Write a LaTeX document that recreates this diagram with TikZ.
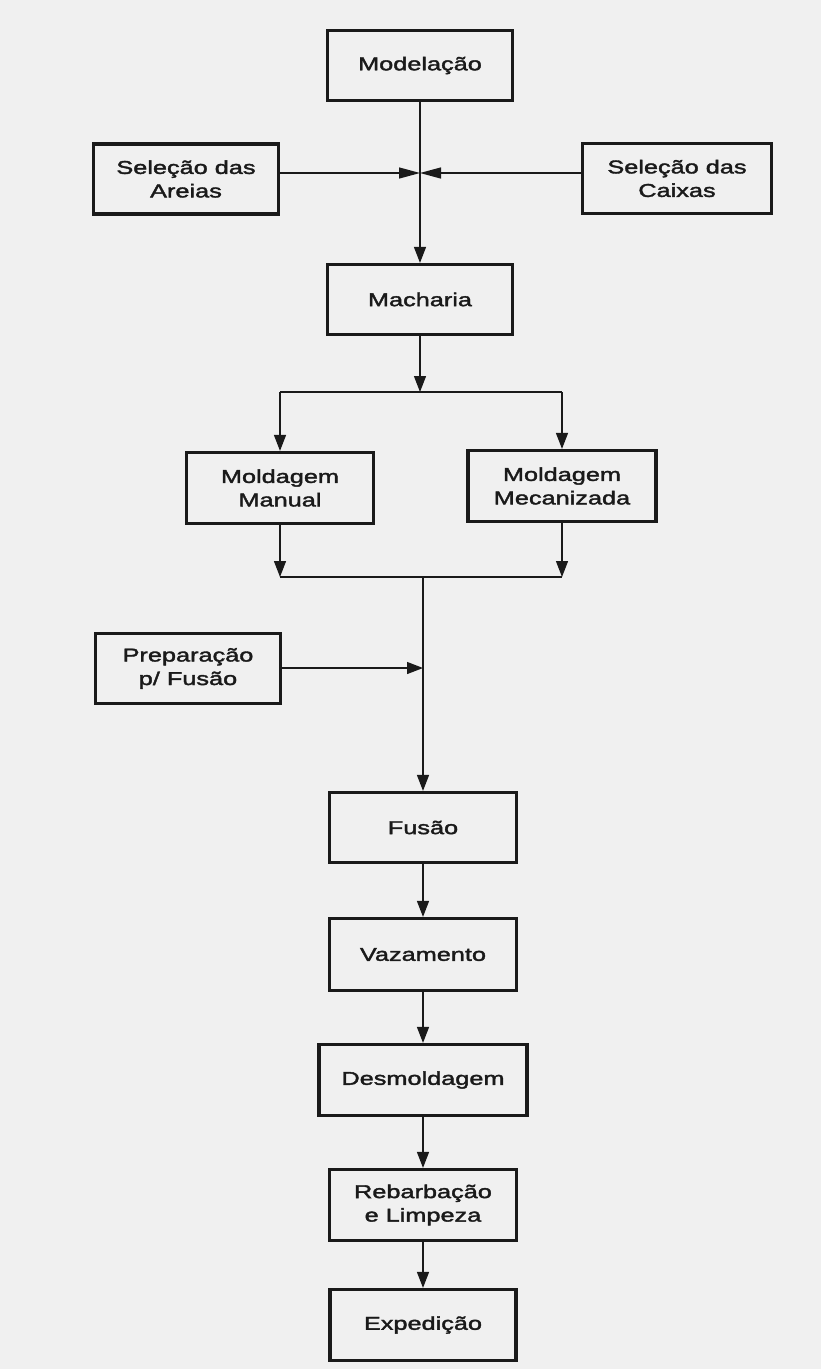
\documentclass[tikz,border=0pt]{standalone}
\usepackage{fontspec}
\setmainfont[FakeStretch=1.36,FakeBold=2]{Liberation Sans}
\usetikzlibrary{arrows.meta}
\definecolor{paper}{RGB}{240,240,240}
\definecolor{ink}{RGB}{26,26,26}
\begin{document}
\begin{tikzpicture}[x=1pt,y=-1pt,
  stage/.style={draw=ink, line width=3.2pt, align=center, inner sep=0pt,
    minimum width=185pt, minimum height=70pt,
    font=\fontsize{18.6}{23.5}\selectfont, text=ink},
  link/.style={draw=ink, line width=1.3pt},
  flow/.style={link, -{Triangle[length=16pt,width=12pt]}},
  feed/.style={link, -{Triangle[length=21pt,width=11pt]}}]
% paper
\fill[paper] (0,0) rectangle (821,1369);
\useasboundingbox (0,0) rectangle (821,1369);

% process stages
\node[stage] (mod)    at (420,65.5)  {Modelação};
\node[stage] (areias) at (186,179)   {Seleção das\\Areias};
\node[stage, minimum width=189pt] (caixas) at (677,178.5) {Seleção das\\Caixas};
\node[stage] (mach)   at (420,299.5) {Macharia};
\node[stage, minimum width=187pt, minimum height=71pt] (manual) at (280,488) {Moldagem\\Manual};
\node[stage, minimum width=188pt, minimum height=71pt] (mecan)  at (562,486) {Moldagem\\Mecanizada};
\node[stage] (prep)   at (188,668.5) {Preparação\\p/ Fusão};
\node[stage, minimum width=187pt] (fusao) at (423,827.5) {Fusão};
\node[stage, minimum width=187pt, minimum height=72pt] (vaz) at (423,954.5) {Vazamento};
\node[stage, minimum width=208pt, minimum height=71pt] (desm) at (423,1080) {Desmoldagem};
\node[stage, minimum width=187pt, minimum height=71pt] (rebar) at (423,1205) {Rebarbação\\e Limpeza};
\node[stage, minimum width=186pt, minimum height=71pt] (exped) at (423,1325) {Expedição};

% junction points
\coordinate (j1) at (420,173);
\coordinate (split) at (420,392);
\coordinate (splitL) at (280,392);
\coordinate (splitR) at (562,392);
\coordinate (joinL) at (280,577);
\coordinate (joinR) at (562,577);
\coordinate (join) at (423,577);
\coordinate (j2) at (423,668);

% top feed
\draw[flow] (mod.south) -- (mach.north);
\draw[feed] (areias.east |- j1) -- (j1);
\draw[feed] (caixas.west |- j1) -- (j1);

% split into the two moulding lines
\draw[flow] (mach.south) -- (split);
\draw[link] (splitL) -- (splitR);
\draw[flow] (splitL) -- (manual.north);
\draw[flow] (splitR) -- (mecan.north);

% merge back
\draw[flow] (manual.south) -- (joinL);
\draw[flow] (mecan.south) -- (joinR);
\draw[link] (joinL) -- (joinR);
\draw[flow] (join) -- (fusao.north);
\draw[flow] (prep.east |- j2) -- (j2);

% lower chain
\draw[flow] (fusao.south) -- (vaz.north);
\draw[flow] (vaz.south) -- (desm.north);
\draw[flow] (desm.south) -- (rebar.north);
\draw[flow] (rebar.south) -- (exped.north);
\end{tikzpicture}
\end{document}
